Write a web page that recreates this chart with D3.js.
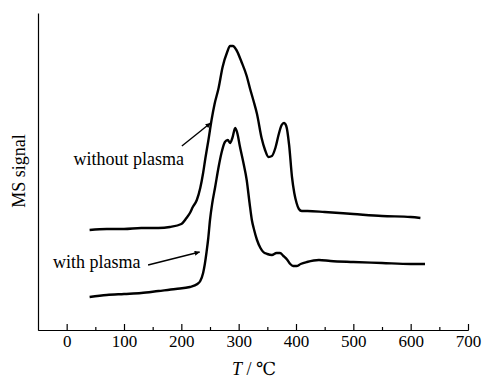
<!DOCTYPE html>
<meta charset="utf-8">
<style>
body { margin: 0; background: #fff; }
svg text { font-family: "Liberation Serif", "DejaVu Serif", serif; fill: #000; }
.axis text { font-size: 17px; }
.axis path, .axis line { stroke: #000; stroke-width: 1.2; }
</style>
<svg width="482" height="381"></svg>
<script src="https://cdn.jsdelivr.net/npm/d3@7"></script>
<script>

// temperature (°C) and MS signal (a.u.)
var tempWithout = [40,70,100,130,160,180,200,209,215,220,227,233,238,242,247,253,258,265,272,280,285,290,296,305,314,320,326,332,340,346,352,358,364,370,375,379,383,388,393,397,401,405,410,420,450,500,550,600,617];
var sigWithout  = [100,101,101,102,102,103,106,112,117,123,130,142,157,172,189,211,226,242,263,278,284,284,280,268,254,241,229,216,192,180,173,174,182,196,205,207,204,185,153,137,127,121,119,119,118,116,114,113,112];

var tempWith = [40,70,100,130,160,190,215,228,233,238,241,244,247,250,254,259,265,270,276,281,285,289,294,298,302,308,314,319,323,327,332,338,343,350,358,366,372,378,385,390,395,401,408,419,440,460,500,550,600,625];
var sigWith  = [33,35,36,37,39,41,43,46,49,57,66,78,92,110,127,143,163,177,188,190,187,192,202,196,184,168,150,127,110,100,90,82,78,76,75,77,77,74,70,66,64,64,66,68,70,69,68,67,66,66];

var xTicks = [0,100,200,300,400,500,600,700];
var xMinor = [50,150,250,350,450,550,650];

// annotation labels: text anchor and arrow [tail, tip] in data units
var labels = [
  {text: "without plasma", at: [12, 165], arrow: [[201, 184], [251, 207]]},
  {text: "with plasma",    at: [-24, 62], arrow: [[142, 65], [232, 78]]}
];

var svg = d3.select("svg");

var x = d3.scaleLinear().domain([-50, 700]).range([38, 468]);
var y = d3.scaleLinear().domain([0, 317]).range([330, 13]);

// axes
svg.append("g")
    .attr("class", "axis")
    .attr("transform", "translate(0,330)")
    .call(d3.axisBottom(x).tickValues(xMinor).tickSize(-3).tickSizeOuter(0).tickFormat(""));

svg.append("g")
    .attr("class", "axis")
    .attr("transform", "translate(0,330)")
    .call(d3.axisBottom(x).tickValues(xTicks).tickSize(-6).tickSizeOuter(0).tickPadding(5));

svg.append("g")
    .attr("class", "axis")
    .attr("transform", "translate(38,0)")
    .call(d3.axisLeft(y).tickValues([]).tickSizeOuter(0));

var xl = svg.append("text")
    .attr("x", 254)
    .attr("y", 375)
    .attr("text-anchor", "middle")
    .attr("font-size", 18);
xl.append("tspan").attr("font-style", "italic").text("T");
xl.append("tspan").text(" / \u2103");

svg.append("text")
    .attr("transform", "translate(25,171) rotate(-90)")
    .attr("text-anchor", "middle")
    .attr("font-size", 18)
    .text("MS signal");

// curves
var line = d3.line()
    .x(function(d) { return x(d[0]); })
    .y(function(d) { return y(d[1]); })
    .curve(d3.curveMonotoneX);

[[tempWithout, sigWithout], [tempWith, sigWith]].forEach(function(s) {
  svg.append("path")
      .datum(d3.zip(s[0], s[1]))
      .attr("fill", "none")
      .attr("stroke", "#000")
      .attr("stroke-width", 2.4)
      .attr("stroke-linejoin", "round")
      .attr("d", line);
});

// arrows + labels
svg.append("defs").append("marker")
    .attr("id", "head")
    .attr("viewBox", "0 0 10 10")
    .attr("refX", 10).attr("refY", 5)
    .attr("markerWidth", 6).attr("markerHeight", 5)
    .attr("markerUnits", "userSpaceOnUse")
    .attr("orient", "auto")
  .append("path")
    .attr("d", "M0,0L10,5L0,10z")
    .attr("fill", "#000");

labels.forEach(function(l) {
  svg.append("text")
      .attr("x", x(l.at[0]))
      .attr("y", y(l.at[1]))
      .attr("font-size", 18)
      .text(l.text);
  svg.append("line")
      .attr("x1", x(l.arrow[0][0])).attr("y1", y(l.arrow[0][1]))
      .attr("x2", x(l.arrow[1][0])).attr("y2", y(l.arrow[1][1]))
      .attr("stroke", "#000")
      .attr("stroke-width", 1.4)
      .attr("marker-end", "url(#head)");
});

</script>
